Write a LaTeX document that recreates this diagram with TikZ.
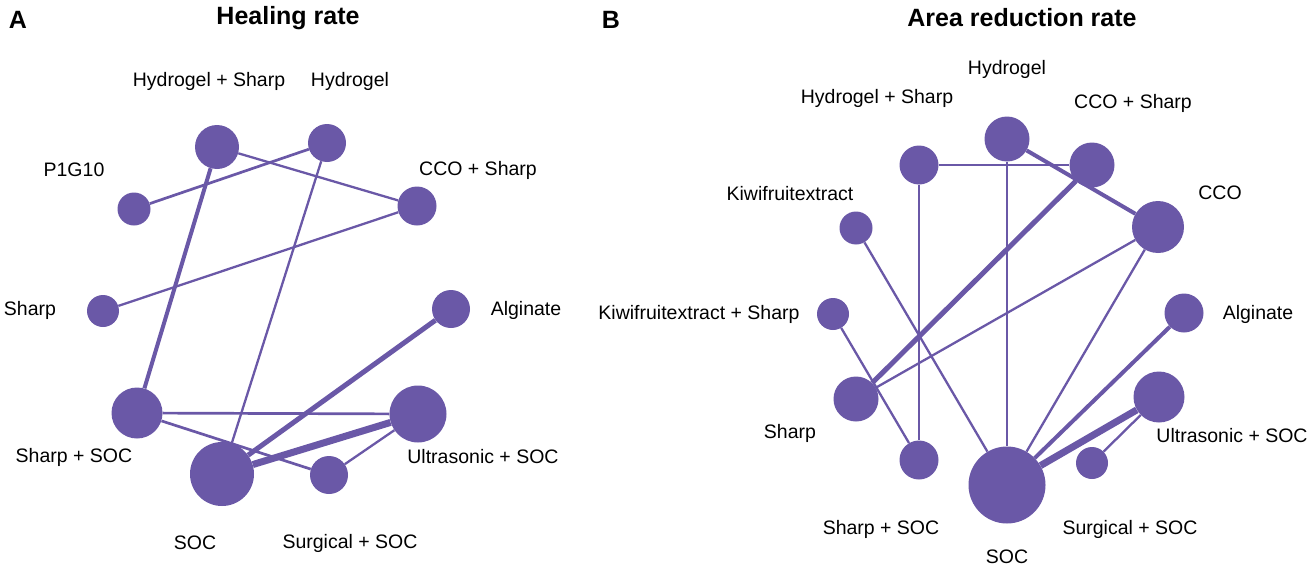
\documentclass[tikz,border=0pt]{standalone}
\usepackage{fontspec}
\setmainfont{Liberation Sans}
\usepackage{tikz}
\usetikzlibrary{backgrounds}
\definecolor{netpurple}{RGB}{106,88,167}

\begin{document}
\begin{tikzpicture}[x=1pt,y=-1pt,
    trt/.style={circle,fill=netpurple,inner sep=0pt},
    lab/.style={font=\fontsize{19.5}{22}\selectfont},
    ttl/.style={font=\fontsize{25}{28}\selectfont\bfseries},
    cmp/.style={draw=netpurple,line width=#1pt},
    cmp/.default=2.3]
    \useasboundingbox (0,0) rectangle (1309,570);
    % panel A: healing rate
    \node[ttl] (tA) at (18,20) {A};
    \node[ttl] (hA) at (288,18) {Healing rate};
    \node[trt,minimum size=44pt] (aHS) at (217,147) {};
    \node[trt,minimum size=38pt] (aHy) at (327,143) {};
    \node[trt,minimum size=33pt] (aP) at (134,209) {};
    \node[trt,minimum size=39pt] (aCS) at (417,206) {};
    \node[trt,minimum size=32pt] (aSh) at (103,311) {};
    \node[trt,minimum size=38pt] (aAl) at (451,309) {};
    \node[trt,minimum size=51pt] (aSS) at (137,413) {};
    \node[trt,minimum size=57pt] (aUS) at (418,414) {};
    \node[trt,minimum size=64pt] (aSOC) at (222,474) {};
    \node[trt,minimum size=38pt] (aSu) at (329,475) {};
    \node[lab] (laHS) at (209,81) {Hydrogel + Sharp};
    \node[lab] (laHy) at (350,81) {Hydrogel};
    \node[lab] (laP) at (74,170) {P1G10};
    \node[lab] (laCS) at (478,170) {CCO + Sharp};
    \node[lab] (laSh) at (30,310) {Sharp};
    \node[lab] (laAl) at (526,310) {Alginate};
    \node[lab] (laSS) at (74,457) {Sharp + SOC};
    \node[lab] (laUS) at (483,457) {Ultrasonic + SOC};
    \node[lab] (laSOC) at (195,543) {SOC};
    \node[lab] (laSu) at (350,543) {Surgical + SOC};
    \begin{scope}[on background layer]
      \draw[cmp] (aHS) -- (aCS);
      \draw[cmp=4] (aHS) -- (aSS);
      \draw[cmp=2.7] (aHy) -- (aP);
      \draw[cmp] (aHy) -- (aSOC);
      \draw[cmp] (aCS) -- (aSh);
      \draw[cmp=5] (aAl) -- (aSOC);
      \draw[cmp=2.7] (aSS) -- (aUS);
      \draw[cmp=2.7] (aSS) -- (aSu);
      \draw[cmp=7] (aSOC) -- (aUS);
      \draw[cmp] (aSu) -- (aUS);
    \end{scope}
    % panel B: area reduction rate
    \node[ttl] (tB) at (611,20) {B};
    \node[ttl] (hB) at (1022,18) {Area reduction rate};
    \node[trt,minimum size=45pt] (bHy) at (1007,139) {};
    \node[trt,minimum size=39pt] (bHS) at (919,165) {};
    \node[trt,minimum size=45pt] (bCS) at (1092,165) {};
    \node[trt,minimum size=52pt] (bCCO) at (1158,227) {};
    \node[trt,minimum size=33pt] (bK) at (856,228) {};
    \node[trt,minimum size=32pt] (bKS) at (833,314) {};
    \node[trt,minimum size=39pt] (bAl) at (1184,313) {};
    \node[trt,minimum size=45pt] (bSh) at (856,399) {};
    \node[trt,minimum size=51pt] (bUS) at (1159,397) {};
    \node[trt,minimum size=39pt] (bSS) at (919,460) {};
    \node[trt,minimum size=77pt] (bSOC) at (1007,485) {};
    \node[trt,minimum size=32pt] (bSu) at (1092,463) {};
    \node[lab] (lbHy) at (1007,69) {Hydrogel};
    \node[lab] (lbHS) at (877,98) {Hydrogel + Sharp};
    \node[lab] (lbCS) at (1133,103) {CCO + Sharp};
    \node[lab] (lbCCO) at (1220,193) {CCO};
    \node[lab] (lbK) at (790,194) {Kiwifruitextract};
    \node[lab] (lbKS) at (699,314) {Kiwifruitextract + Sharp};
    \node[lab] (lbAl) at (1258,314) {Alginate};
    \node[lab] (lbSh) at (790,433) {Sharp};
    \node[lab] (lbUS) at (1232,436) {Ultrasonic + SOC};
    \node[lab] (lbSS) at (881,529) {Sharp + SOC};
    \node[lab] (lbSu) at (1130,529) {Surgical + SOC};
    \node[lab] (lbSOC) at (1007,557) {SOC};
    \begin{scope}[on background layer]
      \draw[cmp] (bHS) -- (bCS);
      \draw[cmp] (bHS) -- (bSS);
      \draw[cmp] (bHy) -- (bSOC);
      \draw[cmp=4] (bHy) -- (bCCO);
      \draw[cmp=5] (bCS) -- (bSh);
      \draw[cmp] (bCCO) -- (bSh);
      \draw[cmp] (bCCO) -- (bSOC);
      \draw[cmp] (bK) -- (bSOC);
      \draw[cmp] (bKS) -- (bSS);
      \draw[cmp=4] (bAl) -- (bSOC);
      \draw[cmp=7] (bUS) -- (bSOC);
      \draw[cmp] (bUS) -- (bSu);
    \end{scope}
\end{tikzpicture}
\end{document}
